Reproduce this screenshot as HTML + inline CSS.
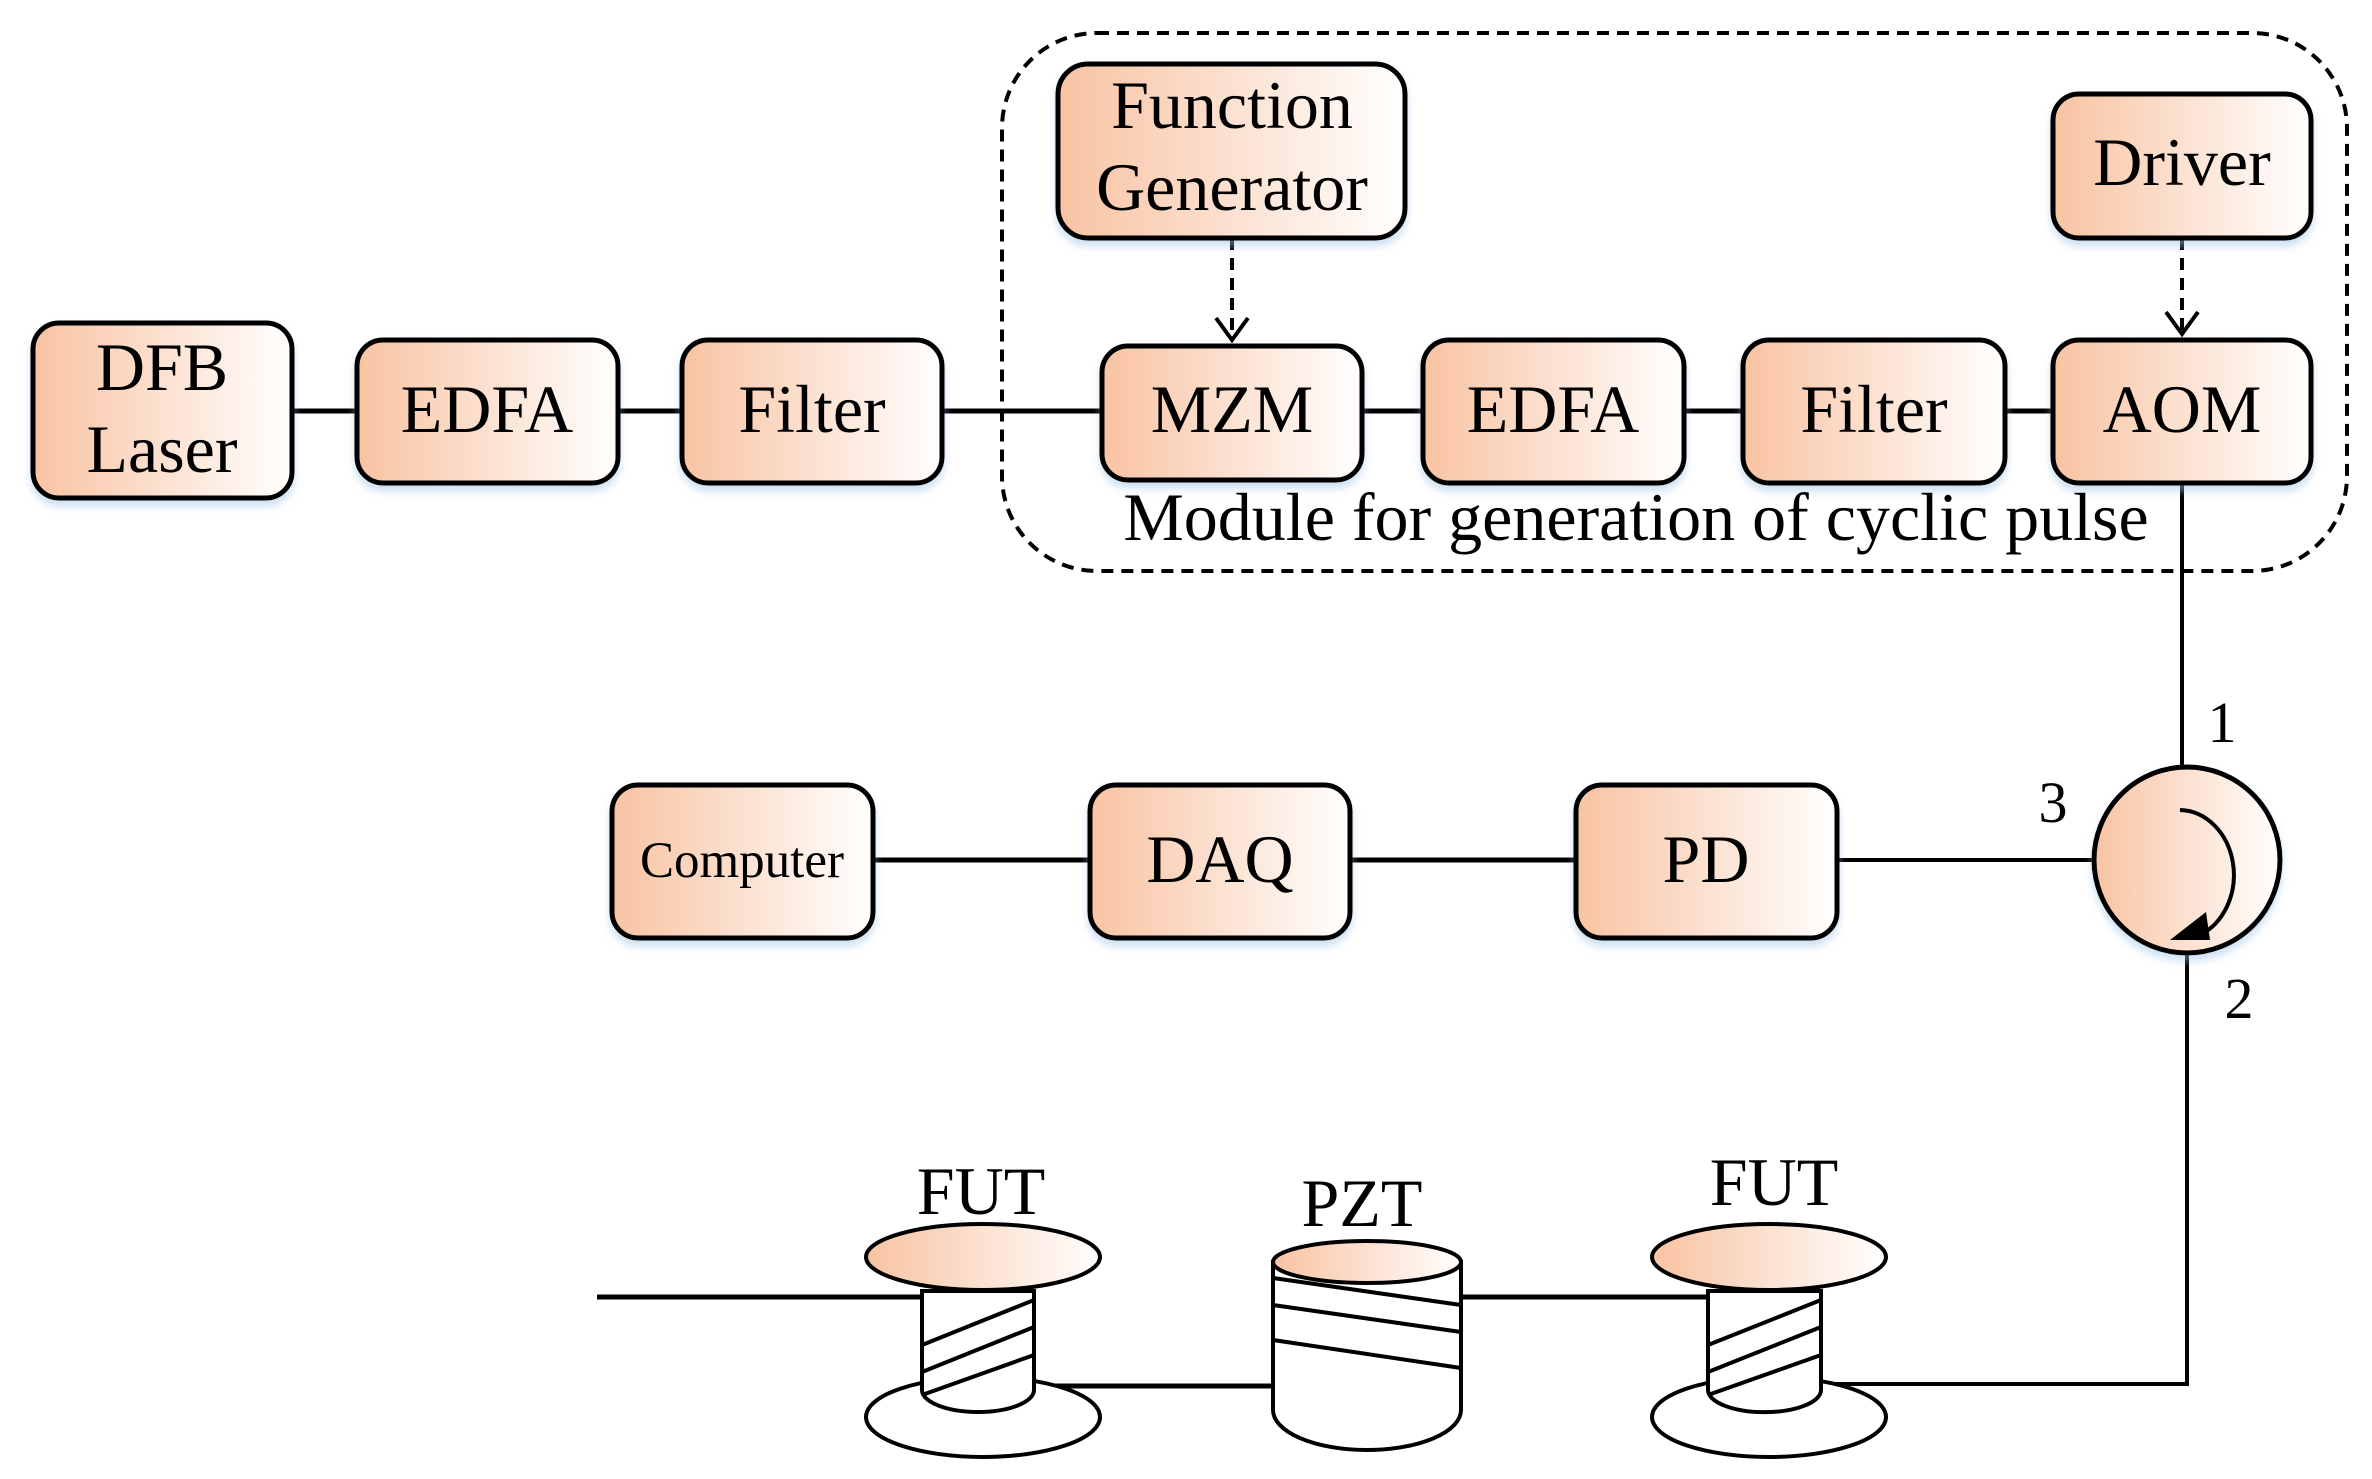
<!DOCTYPE html>
<html><head><meta charset="utf-8"><style>html,body{margin:0;padding:0;background:#fff}svg{display:block}</style></head>
<body>
<svg width="2372" height="1479" viewBox="0 0 2372 1479" xmlns="http://www.w3.org/2000/svg" font-family="Liberation Serif, serif">
<defs>
<linearGradient id="g" x1="0" y1="0" x2="1" y2="0"><stop offset="0" stop-color="#f8c3a2"/><stop offset="1" stop-color="#ffffff"/></linearGradient>
<filter id="sh" x="-10%" y="-10%" width="120%" height="130%"><feDropShadow dx="0" dy="6" stdDeviation="4" flood-color="#9cc3e6" flood-opacity="0.5"/></filter>
</defs>
<g stroke="#000" stroke-width="5" fill="none">
<rect x="1002" y="33" width="1345" height="538" rx="95" stroke-dasharray="12,8" stroke-width="4"/>
<line x1="292" y1="411" x2="357" y2="411"/>
<line x1="618" y1="411" x2="682" y2="411"/>
<line x1="942" y1="411" x2="1102" y2="411"/>
<line x1="1362" y1="411" x2="1423" y2="411"/>
<line x1="1684" y1="411" x2="1743" y2="411"/>
<line x1="2005" y1="411" x2="2053" y2="411"/>
<line x1="1232" y1="238" x2="1232" y2="338" stroke-dasharray="12,8" stroke-width="4"/>
<polyline points="1216,318 1232,340 1248,318" stroke-width="4"/>
<line x1="2182" y1="238" x2="2182" y2="332" stroke-dasharray="12,8" stroke-width="4"/>
<polyline points="2166,312 2182,334 2198,312" stroke-width="4"/>
<line x1="2182" y1="483" x2="2182" y2="767" stroke-width="4"/>
<line x1="873" y1="860" x2="1090" y2="860"/>
<line x1="1350" y1="860" x2="1576" y2="860"/>
<line x1="1837" y1="860" x2="2093" y2="860" stroke-width="4"/>
<polyline points="2187,954 2187,1384 1821,1384" stroke-width="4"/>
<line x1="597" y1="1297" x2="922" y2="1297"/>
<line x1="1034" y1="1386" x2="1273" y2="1386"/>
<line x1="1461" y1="1297" x2="1708" y2="1297"/>
</g>
<g stroke="#000" stroke-width="5" fill="url(#g)" filter="url(#sh)">
<rect x="33" y="323" width="259" height="175" rx="26"/>
<rect x="357" y="340" width="261" height="143" rx="26"/>
<rect x="682" y="340" width="260" height="143" rx="26"/>
<rect x="1102" y="346" width="260" height="134" rx="26"/>
<rect x="1423" y="340" width="261" height="143" rx="26"/>
<rect x="1743" y="340" width="262" height="143" rx="26"/>
<rect x="2053" y="340" width="258" height="143" rx="26"/>
<rect x="1058" y="64" width="347" height="174" rx="30"/>
<rect x="2053" y="94" width="258" height="144" rx="26"/>
<rect x="612" y="785" width="261" height="153" rx="26"/>
<rect x="1090" y="785" width="260" height="153" rx="26"/>
<rect x="1576" y="785" width="261" height="153" rx="26"/>
<circle cx="2187" cy="860" r="93"/>
</g>
<path d="M2180,810 A55,65 0 0 1 2200,935" stroke="#000" stroke-width="4" fill="none"/>
<polygon points="2170,940 2210,940 2206,912" fill="#000"/>
<g stroke="#000" stroke-width="4">
<ellipse cx="983" cy="1417" rx="117" ry="40" fill="#fff"/>
<path d="M922,1291 L922,1390 A56,22 0 0 0 1034,1390 L1034,1291 Z" fill="#fff"/>
<line x1="922" y1="1345" x2="1034" y2="1300"/><line x1="922" y1="1372" x2="1034" y2="1327"/><line x1="922" y1="1395" x2="1034" y2="1355"/>
<ellipse cx="983" cy="1257" rx="117" ry="33" fill="url(#g)"/>
<ellipse cx="1769" cy="1417" rx="117" ry="40" fill="#fff"/>
<path d="M1708,1291 L1708,1390 A56,22 0 0 0 1821,1390 L1821,1291 Z" fill="#fff"/>
<line x1="1708" y1="1345" x2="1821" y2="1300"/><line x1="1708" y1="1372" x2="1821" y2="1327"/><line x1="1708" y1="1395" x2="1821" y2="1355"/>
<ellipse cx="1769" cy="1257" rx="117" ry="33" fill="url(#g)"/>
<path d="M1273,1262 L1273,1410 A94,40 0 0 0 1461,1410 L1461,1262 Z" fill="#fff"/>
<line x1="1273" y1="1278" x2="1461" y2="1305"/><line x1="1273" y1="1305" x2="1461" y2="1332"/><line x1="1273" y1="1340" x2="1461" y2="1368"/>
<ellipse cx="1367" cy="1262" rx="94" ry="21" fill="url(#g)"/>
</g>
<g font-size="68" text-anchor="middle" fill="#000">
<text x="162" y="390">DFB</text><text x="162" y="472">Laser</text>
<text x="487" y="432">EDFA</text>
<text x="812" y="432">Filter</text>
<text x="1232" y="432">MZM</text>
<text x="1553" y="432">EDFA</text>
<text x="1874" y="432">Filter</text>
<text x="2182" y="432">AOM</text>
<text x="1232" y="128">Function</text><text x="1232" y="210">Generator</text>
<text x="2182" y="185">Driver</text>
<text x="1636" y="540">Module for generation of cyclic pulse</text>
<text x="742" y="877" font-size="51">Computer</text>
<text x="1220" y="882">DAQ</text>
<text x="1706" y="882">PD</text>
<text x="2222" y="742" font-size="58">1</text>
<text x="2053" y="822" font-size="58">3</text>
<text x="2239" y="1018" font-size="58">2</text>
<text x="981" y="1214">FUT</text>
<text x="1362" y="1226">PZT</text>
<text x="1774" y="1205">FUT</text>
</g>
</svg>
</body></html>
